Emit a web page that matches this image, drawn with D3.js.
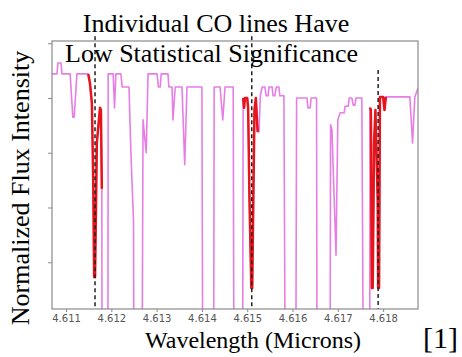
<!DOCTYPE html>
<html>
<head>
<meta charset="utf-8">
<script src="https://cdn.jsdelivr.net/npm/d3@7"></script>
<style>
  body { margin: 0; background: #fff; }
  svg { display: block; }
</style>
</head>
<body>
<div id="chart"></div>
<script>
// observed spectrum (pink)
const spectrumWl = [
  4.61069, 4.61080, 4.61082, 4.61089, 4.61091, 4.61109, 4.61115, 4.61118, 4.61124, 4.61149,
  4.61153, 4.61157, 4.61160, 4.61162, 4.61164, 4.61168, 4.61175, 4.61177, 4.61179, 4.61180,
  4.61192, 4.61193, 4.61204, 4.61207, 4.61210, 4.61221, 4.61224, 4.61239, 4.61243, 4.61248,
  4.61249, 4.61251, 4.61266, 4.61270, 4.61277, 4.61281, 4.61301, 4.61304, 4.61308, 4.61310,
  4.61325, 4.61327, 4.61334, 4.61336, 4.61341, 4.61356, 4.61362, 4.61367, 4.61400, 4.61403,
  4.61425, 4.61427, 4.61440, 4.61446, 4.61451, 4.61469, 4.61472, 4.61489, 4.61491, 4.61493,
  4.61495, 4.61500, 4.61502, 4.61505, 4.61509, 4.61511, 4.61514, 4.61516, 4.61519, 4.61523,
  4.61526, 4.61529, 4.61533, 4.61539, 4.61542, 4.61546, 4.61548, 4.61555, 4.61557, 4.61561,
  4.61564, 4.61570, 4.61572, 4.61581, 4.61586, 4.61606, 4.61609, 4.61632, 4.61634, 4.61639,
  4.61641, 4.61653, 4.61655, 4.61682, 4.61684, 4.61687, 4.61696, 4.61700, 4.61705, 4.61714,
  4.61716, 4.61723, 4.61725, 4.61731, 4.61734, 4.61738, 4.61740, 4.61753, 4.61759, 4.61770,
  4.61771, 4.61773, 4.61775, 4.61777, 4.61780, 4.61783, 4.61788, 4.61789, 4.61791, 4.61793,
  4.61800, 4.61803, 4.61806, 4.61859, 4.61865, 4.61870, 4.61877
];
const spectrumFlux = [
  1.044, 1.044, 1.064, 1.064, 1.044, 1.044, 0.965, 0.965, 1.044, 1.044,
  1.026, 0.991, 0.850, 0.673, 0.673, 0.918, 0.982, 0.978, 0.834, 0.100,
  0.100, 1.044, 1.044, 0.982, 1.044, 1.044, 1.020, 1.020, 0.905, 0.795,
  0.774, 0.100, 0.100, 0.960, 0.900, 1.044, 1.044, 1.020, 1.020, 1.044,
  1.044, 1.020, 1.020, 0.960, 1.020, 1.020, 0.878, 1.020, 1.020, 0.100,
  0.100, 1.020, 1.020, 0.960, 1.020, 1.020, 0.100, 0.100, 1.000, 0.982,
  1.000, 1.000, 0.982, 0.814, 0.653, 0.653, 0.850, 0.978, 1.000, 0.938,
  0.938, 1.005, 1.020, 1.020, 1.004, 1.004, 1.020, 1.020, 1.004, 1.004,
  1.020, 1.020, 1.004, 1.004, 0.100, 0.100, 1.000, 1.000, 0.982, 0.982,
  1.000, 1.000, 0.100, 0.100, 0.951, 0.942, 0.713, 0.960, 0.973, 0.973,
  0.985, 0.985, 1.000, 1.000, 0.987, 0.987, 1.000, 1.000, 0.100, 0.100,
  0.982, 0.978, 0.653, 0.653, 0.918, 0.978, 0.814, 0.653, 0.653, 1.002,
  1.002, 0.978, 1.002, 1.002, 0.918, 1.002, 1.018
];

// CO model segments (red)
const co1Wl = [4.61149, 4.61153, 4.61157, 4.61160, 4.61162, 4.61164, 4.61168, 4.61175, 4.61177, 4.61179];
const co1Flux = [1.044, 1.026, 0.991, 0.850, 0.673, 0.673, 0.918, 0.982, 0.978, 0.834];
const co2Wl = [4.61491, 4.61493, 4.61495, 4.61500, 4.61502, 4.61505, 4.61509, 4.61511, 4.61514, 4.61516, 4.61519, 4.61523];
const co2Flux = [1.000, 0.982, 1.000, 1.000, 0.982, 0.814, 0.653, 0.653, 0.850, 0.978, 1.000, 0.938];
const co3Wl = [4.61771, 4.61773, 4.61775, 4.61777, 4.61780, 4.61783, 4.61788, 4.61789, 4.61791, 4.61793, 4.61800, 4.61803, 4.61806];
const co3Flux = [0.982, 0.978, 0.653, 0.653, 0.918, 0.978, 0.814, 0.653, 0.653, 1.002, 1.002, 0.978, 1.002];

// CO line centres (dashed) and where each dashed line starts
const coLineWl = [4.61164, 4.61510, 4.61789];
const coLineTop = [1.113, 1.113, 1.051];

const xTicks = [4.611, 4.612, 4.613, 4.614, 4.615, 4.616, 4.617, 4.618];
const yTicks = [0.7, 0.8, 0.9, 1.0, 1.1];

const width = 462, height = 357;
const plot = {left: 52, right: 418, top: 41, bottom: 309};

const svg = d3.select('#chart')
  .append('svg')
  .attr('width', width)
  .attr('height', height);

const x = d3.scaleLinear()
  .domain([4.61069, 4.61877])
  .range([plot.left, plot.right]);

const y = d3.scaleLinear()
  .domain([0.6146, 1.1041])
  .range([plot.bottom, plot.top]);

svg.append('defs').append('clipPath')
  .attr('id', 'plot-clip')
  .append('rect')
  .attr('x', plot.left)
  .attr('y', plot.top)
  .attr('width', plot.right - plot.left)
  .attr('height', plot.bottom - plot.top);

const line = d3.line()
  .x(d => x(d[0]))
  .y(d => y(d[1]));

const lines = svg.append('g').attr('clip-path', 'url(#plot-clip)');

lines.append('path')
  .datum(spectrumWl.map((w, i) => [w, spectrumFlux[i]]))
  .attr('fill', 'none')
  .attr('stroke', '#e67ee6')
  .attr('stroke-width', 1.6)
  .attr('stroke-linejoin', 'round')
  .attr('d', line);

[[co1Wl, co1Flux], [co2Wl, co2Flux], [co3Wl, co3Flux]].forEach(seg => {
  lines.append('path')
    .datum(seg[0].map((w, i) => [w, seg[1][i]]))
    .attr('fill', 'none')
    .attr('stroke', '#e8141c')
    .attr('stroke-width', 2.5)
    .attr('stroke-linejoin', 'round')
    .attr('d', line);
});

// dashed markers at the CO line centres
svg.selectAll('line.co')
  .data(coLineWl)
  .enter()
  .append('line')
  .attr('class', 'co')
  .attr('x1', d => x(d))
  .attr('x2', d => x(d))
  .attr('y1', (d, i) => y(coLineTop[i]))
  .attr('y2', plot.bottom)
  .attr('stroke', '#222')
  .attr('stroke-width', 1.5)
  .attr('stroke-dasharray', '4,3');

// frame
svg.append('rect')
  .attr('x', plot.left)
  .attr('y', plot.top)
  .attr('width', plot.right - plot.left)
  .attr('height', plot.bottom - plot.top)
  .attr('fill', 'none')
  .attr('stroke', '#8a8a8a')
  .attr('stroke-width', 1.2);

const xAxis = svg.append('g')
  .attr('transform', 'translate(0,' + plot.bottom + ')')
  .call(d3.axisBottom(x).tickValues(xTicks).tickFormat(d3.format('.3f')).tickSize(3).tickPadding(3));

const yAxis = svg.append('g')
  .attr('transform', 'translate(' + plot.left + ',0)')
  .call(d3.axisLeft(y).tickValues(yTicks).tickFormat('').tickSize(4));

[xAxis, yAxis].forEach(ax => {
  ax.select('.domain').remove();
  ax.selectAll('.tick line').attr('stroke', '#8a8a8a');
  ax.selectAll('.tick text')
    .attr('fill', '#555')
    .style('font-family', 'DejaVu Sans')
    .style('font-size', '10px');
});

const serif = '"Liberation Serif", "Times New Roman", serif';

svg.append('text')
  .attr('x', 216)
  .attr('y', 32)
  .attr('text-anchor', 'middle')
  .style('font-family', serif)
  .style('font-size', '26px')
  .text('Individual CO lines Have');

svg.append('text')
  .attr('x', 65)
  .attr('y', 62)
  .style('font-family', serif)
  .style('font-size', '26px')
  .text('Low Statistical Significance');

svg.append('text')
  .attr('transform', 'translate(29,188)rotate(-90)')
  .attr('text-anchor', 'middle')
  .style('font-family', serif)
  .style('font-size', '26px')
  .text('Normalized Flux Intensity');

svg.append('text')
  .attr('x', 253)
  .attr('y', 348)
  .attr('text-anchor', 'middle')
  .style('font-family', serif)
  .style('font-size', '24px')
  .text('Wavelength (Microns)');

svg.append('text')
  .attr('x', 423)
  .attr('y', 348)
  .style('font-family', serif)
  .style('font-size', '30px')
  .text('[1]');
</script>
</body>
</html>
